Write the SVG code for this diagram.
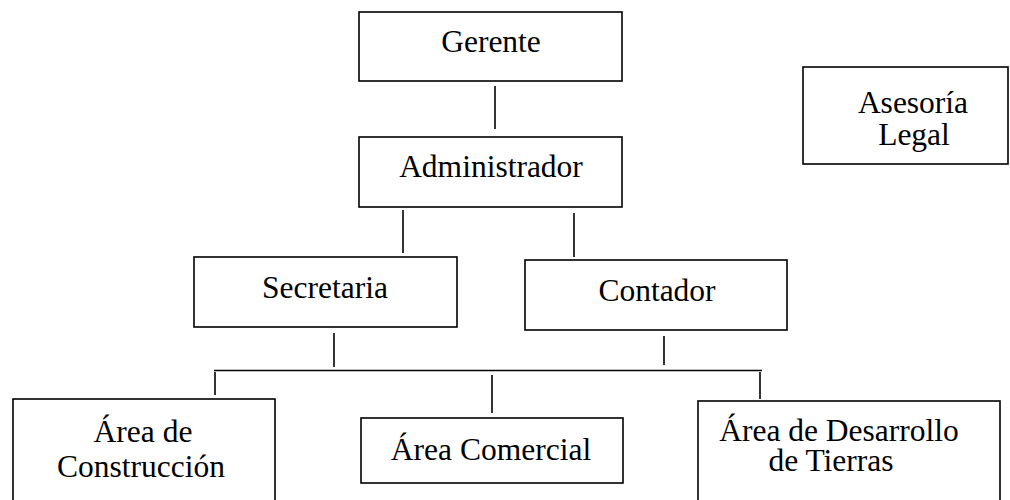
<svg xmlns="http://www.w3.org/2000/svg" width="1010" height="500" viewBox="0 0 1010 500">
<style>
.box{fill:#fff;stroke:#000;stroke-width:1.6}
.t{font-size:31.5px;fill:#000;text-anchor:middle}
.c line{stroke:#000;stroke-width:1.6}
</style>
<rect width="1010" height="500" fill="#fff"/>
<g id="connectors" class="c">
<line x1="495" y1="86" x2="495" y2="129"/>
<line x1="403" y1="210" x2="403" y2="253"/>
<line x1="574" y1="213" x2="574" y2="257"/>
<line x1="334" y1="333" x2="334" y2="367"/>
<line x1="664" y1="336" x2="664" y2="365"/>
<line x1="214" y1="370.5" x2="762" y2="370.5"/>
<line x1="215" y1="372" x2="215" y2="395"/>
<line x1="492" y1="375" x2="492" y2="413"/>
<line x1="760" y1="372" x2="760" y2="399"/>
</g>
<g font-family="Liberation Serif, Times New Roman, DejaVu Serif, serif">
<g id="gerente"><rect class="box" x="359" y="12" width="263" height="69"/><text class="t" x="491" y="52">Gerente</text></g>
<g id="administrador"><rect class="box" x="359" y="137" width="263" height="70"/><text class="t" x="491" y="177">Administrador</text></g>
<g id="asesoria"><rect class="box" x="803" y="67" width="205" height="97"/><text class="t" x="913" y="113">Asesoría</text><text class="t" x="914" y="145">Legal</text></g>
<g id="secretaria"><rect class="box" x="194" y="257" width="263" height="70"/><text class="t" x="325" y="298">Secretaria</text></g>
<g id="contador"><rect class="box" x="525" y="260" width="262" height="70"/><text class="t" x="657" y="301">Contador</text></g>
<g id="construccion"><rect class="box" x="13" y="399" width="262" height="120"/><text class="t" x="143" y="442">Área de</text><text class="t" x="141" y="477">Construcción</text></g>
<g id="comercial"><rect class="box" x="361" y="418" width="262" height="65"/><text class="t" x="491" y="460">Área Comercial</text></g>
<g id="desarrollo"><rect class="box" x="698" y="401" width="302" height="120"/><text class="t" x="839" y="441">Área de Desarrollo</text><text class="t" x="831" y="471">de Tierras</text></g>
</g>
</svg>
